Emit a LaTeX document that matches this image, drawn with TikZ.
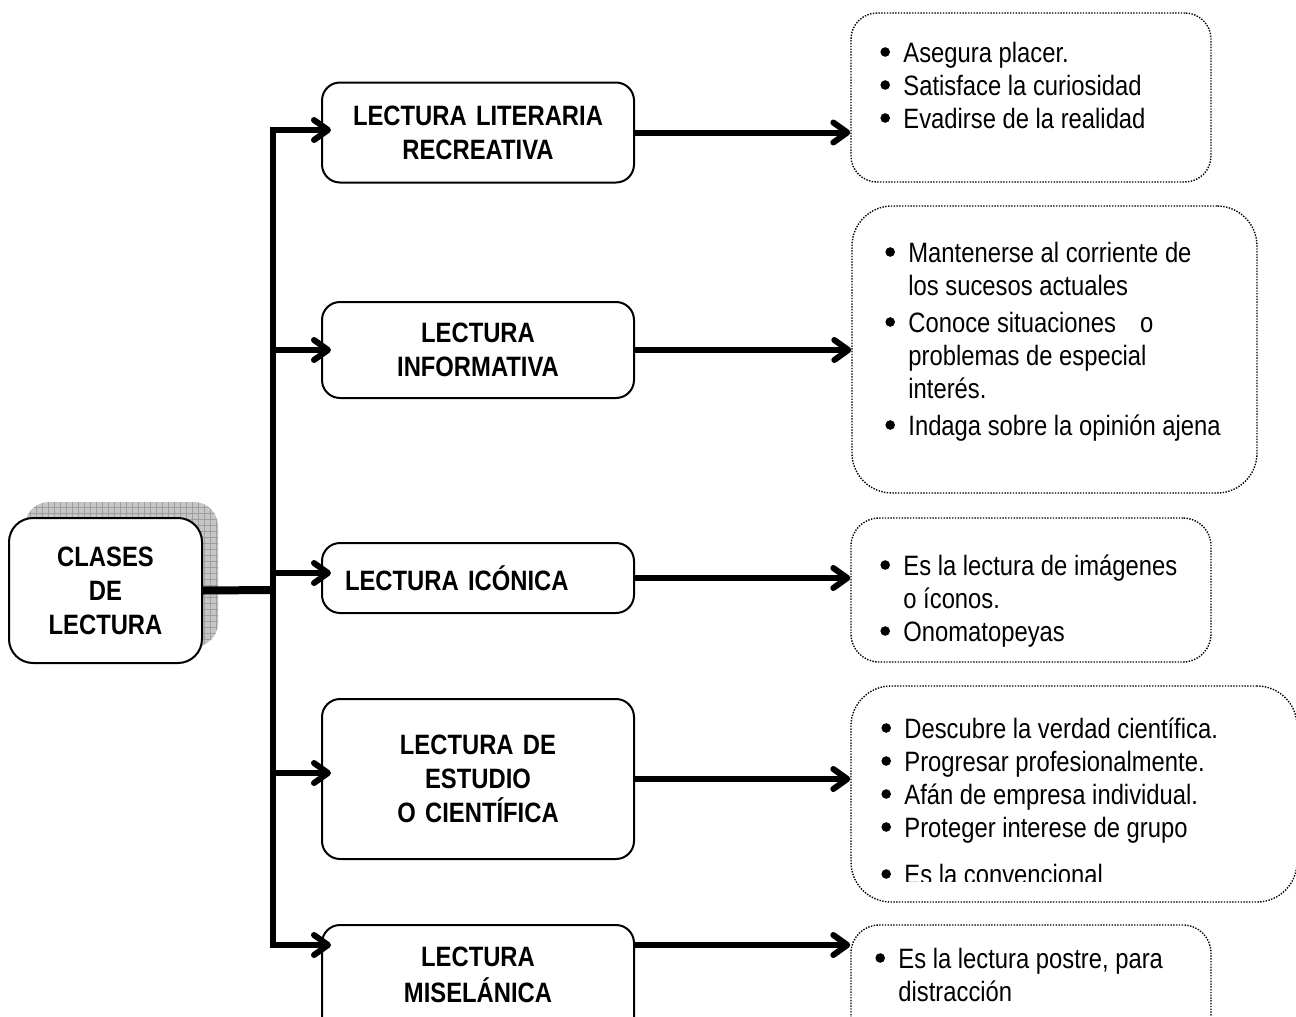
\documentclass[tikz,border=0pt]{standalone}
\usepackage{fontspec}
\setmainfont{Liberation Sans}[FakeStretch=0.85]
\usetikzlibrary{arrows.meta,shadows,patterns}
\newcommand{\punto}{\makebox[11.5pt][l]{\tikz[baseline=-5pt]\fill (0,0) circle (2.4pt);}}
\begin{document}
\begin{tikzpicture}[x=0.5pt,y=-0.5pt,line join=miter,
	font=\fontsize{14}{16.5}\selectfont,
	>={Straight Barb[length=7pt,width=10pt,round]},
	caja/.style={draw,fill=white,line width=1pt,rounded corners=9pt,minimum width=156pt,text width=140pt,inner xsep=8pt,align=center,font=\fontsize{14}{17}\selectfont\bfseries},
	texto/.style={inner sep=0pt,align=center,font=\fontsize{14}{18}\selectfont\bfseries},
	nota/.style={draw,line width=0.7pt,dash pattern=on 0.7pt off 0.7pt,rounded corners=14pt},
	lista/.style={anchor=base west,inner sep=0pt},
	rama/.style={line width=3pt}]
	\useasboundingbox (0,0) rectangle (1296,1017);
	\clip (0,0) rectangle (1296,1017);
	% caja principal
	\node[caja,minimum width=96.5pt,text width=80pt,minimum height=72.5pt,rounded corners=12pt,
		general shadow={shadow xshift=8pt,shadow yshift=8pt,fill=gray!45},
		general shadow={shadow xshift=8pt,shadow yshift=8pt,pattern=grid,pattern color=gray!75}] (cls) at (105.5,590.5) {CLASES\\DE\\LECTURA};
	% clases
	\node[caja,minimum height=50pt] (lit) at (478,132.5) {LECTURA LITERARIA\\RECREATIVA};
	\node[caja,minimum height=48pt] (inf) at (478,350) {LECTURA\\INFORMATIVA};
	\node[caja,minimum height=35pt,align=left,inner xsep=11.5pt,text width=133pt] (ico) at (478,578) {LECTURA ICÓNICA};
	\node[caja,minimum height=80pt] (est) at (478,779) {LECTURA DE\\ESTUDIO\\O CIENTÍFICA};
	\node[caja,minimum height=65pt] (mis) at (478,990) {};
	\node[texto] (mist) at (478,975) {LECTURA\\MISELÁNICA};
	% notas
	\node[nota,minimum width=180pt,minimum height=84.5pt,rounded corners=13pt] (r1) at (1031,97.5) {};
	\node[nota,minimum width=202.5pt,minimum height=143.5pt,rounded corners=20pt] (r2) at (1054.5,349.5) {};
	\node[nota,minimum width=180pt,minimum height=72pt] (r3) at (1031,590) {};
	\node[nota,minimum width=223pt,minimum height=108pt,rounded corners=20pt] (r4) at (1074,794) {};
	\node[nota,minimum width=180pt,minimum height=75pt] (r5) at (1031,1000) {};
	\node[lista] (t1) at (880,62) {\begin{tabular}[t]{@{}l@{}l@{}}
		\punto&Asegura placer.\\
		\punto&Satisface la curiosidad\\
		\punto&Evadirse de la realidad
	\end{tabular}};
	\node[lista] (t2) at (885,262) {\begin{tabular}[t]{@{}l@{}l@{}}
		\punto&Mantenerse al corriente de\\
		&los sucesos actuales\\[2pt]
		\punto&Conoce situaciones\hspace{12pt}o\\
		&problemas de especial\\
		&interés.\\[2pt]
		\punto&Indaga sobre la opinión ajena
	\end{tabular}};
	\node[lista] (t3) at (880,575) {\begin{tabular}[t]{@{}l@{}l@{}}
		\punto&Es la lectura de imágenes\\
		&o íconos.\\
		\punto&Onomatopeyas
	\end{tabular}};
	\begin{scope}
		\clip (r4.north west) rectangle ([yshift=10.5pt]r4.south east);
		\node[lista] (t4) at (881,738) {\begin{tabular}[t]{@{}l@{}l@{}}
			\punto&Descubre la verdad científica.\\
			\punto&Progresar profesionalmente.\\
			\punto&Afán de empresa individual.\\
			\punto&Proteger interese de grupo\\[7pt]
			\punto&Es la convencional
		\end{tabular}};
	\end{scope}
	\node[lista] (t5) at (875,968) {\begin{tabular}[t]{@{}l@{}l@{}}
		\punto&Es la lectura postre, para\\
		&distracción
	\end{tabular}};
	% conectores
	\coordinate (hub) at (273,590);
	\coordinate (j1) at (273,130);
	\coordinate (j2) at (273,350);
	\coordinate (j3) at (273,573);
	\coordinate (j4) at (273,773);
	\coordinate (j5) at (273,945);
	\draw[line width=4pt] (cls.east) -- (hub);
	\draw[rama,<->,shorten <=-5pt,shorten >=-5pt] (j1 -| lit.west) -- (j1) -- (j5) -- (j5 -| mis.west);
	\foreach \n/\j in {inf/j2,ico/j3,est/j4}
	\draw[rama,->,shorten >=-5pt] (\j) -- (\j -| \n.west);
	\foreach \n/\r in {lit/r1,inf/r2,ico/r3,est/r4}
	\draw[rama,->] (\n.east) -- (\n.east -| \r.west);
	\draw[rama,->] (j5 -| mis.east) -- (j5 -| r5.west);
\end{tikzpicture}
\end{document}
